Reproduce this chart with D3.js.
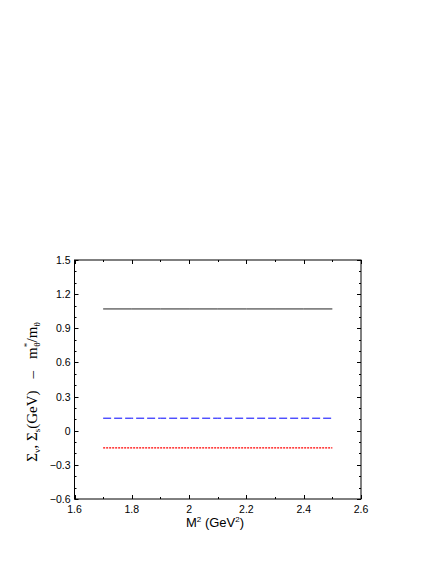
<!DOCTYPE html>
<html><head><meta charset="utf-8">
<script src="https://cdn.jsdelivr.net/npm/d3@7"></script>
<style>body{margin:0;background:#fff}svg{display:block}</style>
</head><body>
<script>
const xValues = [1.7, 1.8, 1.9, 2.0, 2.1, 2.2, 2.3, 2.4, 2.5];
const ratioMass = [1.07, 1.07, 1.07, 1.07, 1.07, 1.07, 1.07, 1.07, 1.07];
const sigmaV = [0.11, 0.11, 0.11, 0.11, 0.11, 0.11, 0.11, 0.11, 0.11];
const sigmaS = [-0.15, -0.15, -0.15, -0.15, -0.15, -0.15, -0.15, -0.15, -0.15];
const xTicks = [1.6, 1.8, 2.0, 2.2, 2.4, 2.6];
const xTickLabels = ["1.6", "1.8", "2", "2.2", "2.4", "2.6"];
const yTicks = [-0.6, -0.3, 0, 0.3, 0.6, 0.9, 1.2, 1.5];
const yTickLabels = ["\u22120.6", "\u22120.3", "0", "0.3", "0.6", "0.9", "1.2", "1.5"];

const W = 436, H = 564;
const L = 74.5, R = 361, T = 260, B = 499;
const svg = d3.select("body").append("svg").attr("width", W).attr("height", H);
const x = d3.scaleLinear().domain([1.6, 2.6]).range([L, R]);
const y = d3.scaleLinear().domain([-0.6, 1.5]).range([B, T]);

const g = svg.append("g");
const xMinor = d3.range(1.6, 2.6001, 0.1);
const yMinor = d3.range(-0.6, 1.5001, 0.1);
const tickG = g.append("g").attr("stroke", "#000").attr("stroke-width", 1);
xMinor.forEach((v, i) => {
  const major = i % 2 === 0;
  const len = major ? 4 : 2;
  const px = Math.round(x(v)) + 0.5;
  tickG.append("line").attr("x1", px).attr("x2", px).attr("y1", B).attr("y2", B - len);
  tickG.append("line").attr("x1", px).attr("x2", px).attr("y1", T).attr("y2", T + len);
});
yMinor.forEach((v, i) => {
  const major = i % 3 === 0;
  const len = major ? 4 : 2;
  const py = Math.round(y(v)) + 0.5;
  tickG.append("line").attr("x1", L).attr("x2", L + len).attr("y1", py).attr("y2", py);
  tickG.append("line").attr("x1", R).attr("x2", R - len).attr("y1", py).attr("y2", py);
});
g.append("rect").attr("x", L).attr("y", T).attr("width", R - L).attr("height", B - T)
  .attr("fill", "none").attr("stroke", "#000").attr("stroke-width", 1);

const font = "'Liberation Sans', Arial, Helvetica, sans-serif";
g.selectAll(".xl").data(xTicks).enter().append("text")
  .attr("x", d => x(d)).attr("y", B + 14).attr("text-anchor", "middle")
  .attr("font-family", font).attr("font-size", 10.5).attr("fill", "#000")
  .text((d, i) => xTickLabels[i]);
g.selectAll(".yl").data(yTicks).enter().append("text")
  .attr("x", L - 4).attr("y", d => y(d) + 4).attr("text-anchor", "end")
  .attr("font-family", font).attr("font-size", 10.5).attr("fill", "#000")
  .text((d, i) => yTickLabels[i]);

const line = arr => d3.line().x((d, i) => x(xValues[i])).y(d => y(d))(arr);
g.append("path").attr("d", line(ratioMass)).attr("fill", "none").attr("stroke", "#222").attr("stroke-width", 1);
g.append("path").attr("d", line(sigmaV)).attr("fill", "none").attr("stroke", "#0000ff").attr("stroke-width", 1).attr("stroke-dasharray", "8,3");
g.append("path").attr("d", line(sigmaS)).attr("fill", "none").attr("stroke", "#ff0000").attr("stroke-width", 1.2).attr("stroke-dasharray", "2,1");

const xl = svg.append("text").attr("x", 215).attr("y", 527).attr("text-anchor", "middle")
  .attr("font-family", font).attr("font-size", 13).attr("fill", "#000");
xl.append("tspan").text("M");
xl.append("tspan").attr("dy", -5).attr("font-size", 8).text("2");
xl.append("tspan").attr("dy", 5).text(" (GeV");
xl.append("tspan").attr("dy", -5).attr("font-size", 8).text("2");
xl.append("tspan").attr("dy", 5).text(")");

const serif = "'Liberation Serif', 'Times New Roman', serif";
const yl = svg.append("text").attr("transform", "translate(37,392) rotate(-90)")
  .attr("text-anchor", "middle").attr("font-family", serif).attr("font-size", 15).attr("fill", "#000")
  .style("white-space", "pre");
yl.append("tspan").text("\u03A3");
yl.append("tspan").attr("dy", 3).attr("font-size", 9).text("v");
yl.append("tspan").attr("dy", -3).text(", \u03A3");
yl.append("tspan").attr("dy", 3).attr("font-size", 9).text("s");
yl.append("tspan").attr("dy", -3).text("(GeV)");
yl.append("tspan").attr("dx", 12).text("\u2013");
yl.append("tspan").attr("dx", 12).text("m");
yl.append("tspan").attr("dy", -7).attr("font-size", 9).text("*");
yl.append("tspan").attr("dy", 10).attr("dx", -4).attr("font-size", 9).text("\u03B8");
yl.append("tspan").attr("dy", -3).text("/m");
yl.append("tspan").attr("dy", 3).attr("font-size", 9).text("\u03B8");
</script>
</body></html>
